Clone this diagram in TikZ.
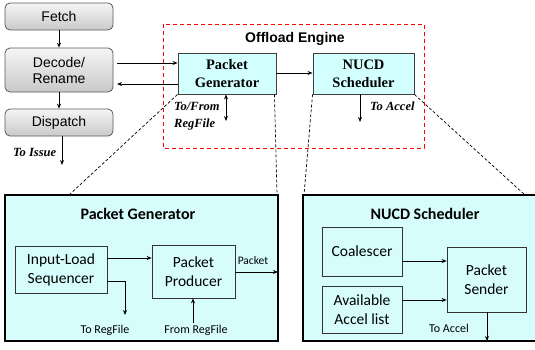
\documentclass[tikz,border=0pt]{standalone}
\usepackage{fontspec}
\setmainfont{Liberation Serif}
\newfontfamily\arialf{Liberation Sans}
\newfontfamily\calibrif{Carlito}
\usetikzlibrary{arrows.meta}
\definecolor{cyanfill}{RGB}{212,255,255}
\definecolor{bigfill}{RGB}{214,252,252}
\definecolor{stagegray}{RGB}{90,90,90}
\tikzset{
  stage/.style={draw=stagegray, line width=0.8pt, rounded corners=5pt,
    top color=gray!8, bottom color=gray!42, minimum width=108pt,
    font=\arialf\fontsize{14}{16}\selectfont, align=center, inner sep=0pt},
  unit/.style={draw=black!75, line width=0.9pt, fill=cyanfill,
    font=\bfseries\fontsize{14.5}{18}\selectfont, align=center, inner sep=0pt},
  panel/.style={draw=black, line width=1.5pt, fill=bigfill},
  block/.style={draw=black!80, line width=0.7pt,
    font=\calibrif\fontsize{15.5}{19}\selectfont, align=center, inner sep=0pt},
  flow/.style={-{Stealth[length=5pt,width=4pt]}, line width=0.9pt},
  zoomline/.style={dashed, line width=0.7pt, dash pattern=on 3pt off 2pt},
  note/.style={font=\bfseries\itshape\fontsize{12.5}{15}\selectfont, inner sep=0pt},
  smallnote/.style={font=\calibrif\fontsize{12}{14}\selectfont, inner sep=0pt},
  paneltitle/.style={font=\calibrif\bfseries\fontsize{16}{18}\selectfont, inner sep=0pt},
}
\begin{document}
\begin{tikzpicture}[x=1pt,y=-1pt]
\useasboundingbox (0,0) rectangle (535,349);

% pipeline stages
\node[stage, minimum height=27pt] (fetch) at (59,16.5) {Fetch};
\node[stage, minimum height=44pt] (decode) at (59,70) {Decode/\\Rename};
\node[stage, minimum height=27pt] (dispatch) at (59,122.5) {Dispatch};
\coordinate (issue) at (62,165);
\draw[flow] (fetch.south) -- (decode.north);
\draw[flow] (decode.south) -- (dispatch.north);
\draw[flow] (dispatch.south -| issue) -- (issue);
\node[note, anchor=west] (toissue) at (13,152) {To Issue};

% offload engine
\draw[red, dashed, line width=0.9pt, dash pattern=on 4pt off 3pt] (163,24) rectangle (424,148);
\node[font=\arialf\bfseries\fontsize{14}{16}\selectfont, inner sep=0pt] (offload) at (295,39) {Offload Engine};

\node[unit, minimum width=98pt, minimum height=41pt] (pg) at (227,73.5) {Packet\\Generator};
\node[unit, minimum width=101pt, minimum height=41pt] (ns) at (363.5,73.5) {NUCD\\Scheduler};

\coordinate (dr1) at (117,63);
\coordinate (dr2) at (117,84);
\draw[flow] (dr1) -- (dr1 -| pg.west);
\draw[flow] (dr2 -| pg.west) -- (dr2);
\draw[flow] (pg.east |- 0,73) -- (ns.west |- 0,73);

\coordinate (rf) at (226,121);
\draw[{Stealth[length=5pt,width=4pt]}-{Stealth[length=5pt,width=4pt]}, line width=0.9pt] (pg.south -| rf) -- (rf);
\node[note, anchor=west, align=left, font=\bfseries\itshape\fontsize{12.5}{17}\selectfont] (tofrom) at (174,116) {To/From\\RegFile};

\coordinate (acc) at (360,122);
\draw[flow] (ns.south -| acc) -- (acc);
\node[note, anchor=west] (toaccel) at (370,106) {To Accel};

% expanded panels
\draw[panel] (5,195) rectangle (278,341);
\draw[panel] (303,195) rectangle (545,341);
\coordinate (pgl) at (69,195);
\coordinate (pgr) at (277,195);
\coordinate (nsl) at (304,195);
\coordinate (nsr) at (525,195);
\draw[zoomline] (pg.south west) -- (pgl);
\draw[zoomline] ([xshift=-2pt]pg.south east) -- (pgr);
\draw[zoomline] (ns.south west) -- (nsl);
\draw[zoomline] (ns.south east) -- (nsr);

% packet generator detail
\node[paneltitle] (pgtitle) at (138,214) {Packet Generator};
\node[block, minimum width=92pt, minimum height=47pt] (ils) at (61,269.5) {Input-Load\\Sequencer};
\node[block, minimum width=83pt, minimum height=53pt] (pp) at (193.5,271.5) {Packet\\Producer};
\draw[flow] (ils.east |- 0,258) -- (pp.west |- 0,258);
\coordinate (torf) at (125,315);
\draw[flow] (ils.east |- 0,281) -| (torf);
\node[smallnote] (torflabel) at (105,330) {To RegFile};
\coordinate (fromrf) at (193,323);
\draw[flow] (fromrf) -- (pp.south -| fromrf);
\node[smallnote] (fromrflabel) at (196,330) {From RegFile};
\coordinate (pkt) at (278,272);
\draw[flow] (pp.east |- pkt) -- (pkt);
\node[smallnote, font=\calibrif\fontsize{11.5}{13}\selectfont] (pktlabel) at (253,261) {Packet};

% NUCD scheduler detail
\node[paneltitle] (nstitle) at (425,214) {NUCD Scheduler};
\node[block, minimum width=80pt, minimum height=49pt] (coal) at (362,251.5) {Coalescer};
\node[block, minimum width=80pt, minimum height=47pt] (avail) at (362,309.5) {Available\\Accel list};
\node[block, minimum width=79pt, minimum height=65pt] (send) at (486.5,279.5) {Packet\\Sender};
\draw[flow] (coal.east |- 0,261) -- (send.west |- 0,261);
\draw[flow] (avail.east |- 0,300) -- (send.west |- 0,300);
\coordinate (out) at (487,341);
\draw[flow] (send.south -| out) -- (out);
\node[smallnote] (outlabel) at (449,328) {To Accel};
\end{tikzpicture}
\end{document}
